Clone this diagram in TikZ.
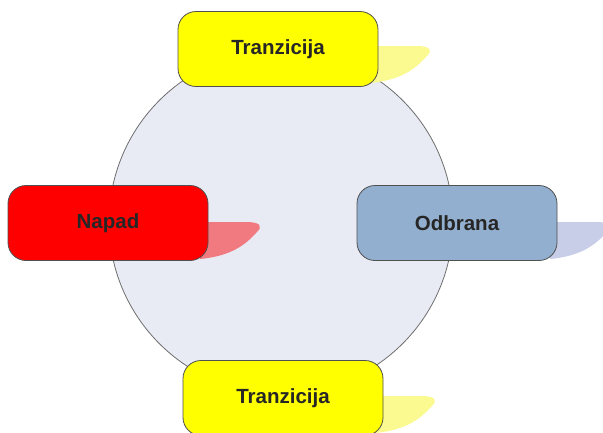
\documentclass[tikz,border=0pt]{standalone}
\usepackage{fontspec}
\setmainfont{Liberation Sans}
\definecolor{circfill}{HTML}{E8EBF4}
\definecolor{circline}{HTML}{6E6E6E}
\definecolor{boxline}{HTML}{505050}
\definecolor{yel}{HTML}{FFFF00}
\definecolor{napred}{HTML}{FF0000}
\definecolor{odblue}{HTML}{93AFCF}
\definecolor{shyel}{HTML}{FAFA90}
\definecolor{shred}{HTML}{F07A80}
\definecolor{shblue}{HTML}{C9CEE8}
\tikzset{
  phase/.style={draw=boxline, line width=0.8pt, rounded corners=18pt, minimum width=200pt, minimum height=75pt, font=\fontsize{20.5}{24}\selectfont\bfseries, text=black!85, inner sep=0pt},
  pics/flare/.style={code={
    \fill[#1] (-8,0) -- (38,0) .. controls (52,0) and (56,4) .. (48,11)
      .. controls (38,22) and (24,34) .. (-8,37) -- cycle;}},
}
\begin{document}
\begin{tikzpicture}[x=1pt,y=-1pt]
\useasboundingbox (0,0) rectangle (603,432);
\fill[white] (0,0) rectangle (603,432);
% circle
\node[circle, draw=circline, fill=circfill, line width=0.8pt, minimum size=344pt, inner sep=0pt] (ring) at (281,222) {};
% shadows
\pic at (378,46) {flare=shyel};
\pic at (383,396) {flare=shyel};
\pic at (208,222) {flare=shred};
\pic at (558,222) {flare=shblue};
% boxes
\node[phase, fill=yel] (top) at (278,49) {Tranzicija};
\node[phase, fill=napred] (napad) at (108,223) {Napad};
\node[phase, fill=odblue] (odbrana) at (457,223) {Odbrana};
\node[phase, fill=yel] (bottom) at (283,398) {Tranzicija};
\end{tikzpicture}
\end{document}
